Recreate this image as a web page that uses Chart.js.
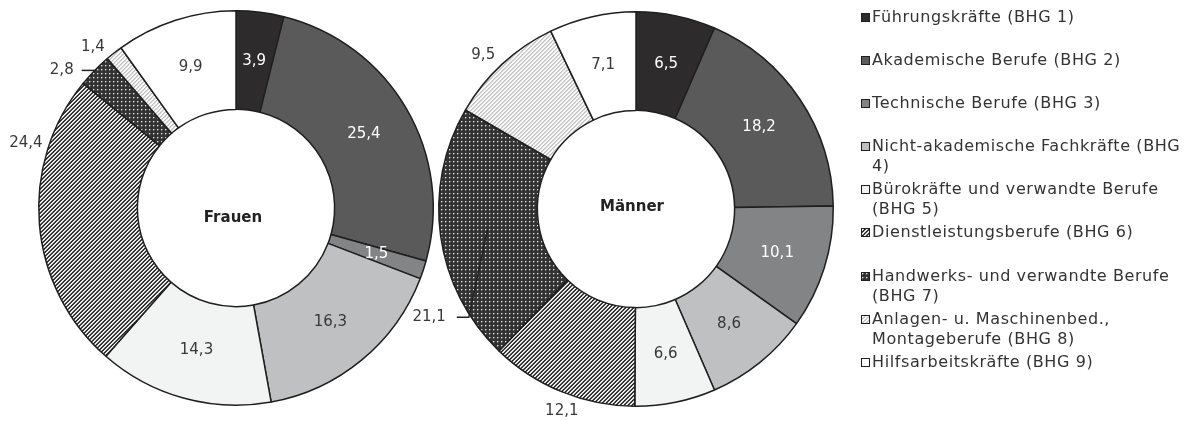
<!DOCTYPE html>
<html>
<head>
<meta charset="utf-8">
<script src="https://cdn.jsdelivr.net/npm/chart.js@4"></script>
<style>
  body { margin: 0; background: #fff; width: 1189px; height: 421px; overflow: hidden; position: relative; font-family: "DejaVu Sans", sans-serif; }
  .pie { position: absolute; top: 0; }
  #legend { position: absolute; left: 861px; top: 7px; width: 328px; color: #333; font-size: 16px; letter-spacing: 0.6px; }
  #legend .item { height: 43.1px; display: flex; align-items: flex-start; }
  #legend canvas { flex: none; margin: 6px 2px 0 0; }
  #legend span { line-height: 20px; white-space: pre; }
</style>
</head>
<body>
<canvas id="frauen" class="pie" style="left:0" width="472" height="421"></canvas>
<canvas id="maenner" class="pie" style="left:400px" width="472" height="421"></canvas>
<div id="legend"></div>
<script>
const categories = [
  "Führungskräfte (BHG 1)",
  "Akademische Berufe (BHG 2)",
  "Technische Berufe (BHG 3)",
  "Nicht-akademische Fachkräfte (BHG\n4)",
  "Bürokräfte und verwandte Berufe\n(BHG 5)",
  "Dienstleistungsberufe (BHG 6)",
  "Handwerks- und verwandte Berufe\n(BHG 7)",
  "Anlagen- u. Maschinenbed.,\nMontageberufe (BHG 8)",
  "Hilfsarbeitskräfte (BHG 9)",
];
const frauenValues = [3.9, 25.4, 1.5, 16.3, 14.3, 24.4, 2.8, 1.4, 9.9];
const maennerValues = [6.5, 18.2, 10.1, 8.6, 6.6, 12.1, 21.1, 9.5, 7.1];

// 4x4 pixel tiles for the hatched segments
function tile(fn) {
  const c = document.createElement("canvas");
  c.width = c.height = 4;
  const g = c.getContext("2d");
  for (let x = 0; x < 4; x++) {
    for (let y = 0; y < 4; y++) {
      g.fillStyle = fn(x, y);
      g.fillRect(x, y, 1, 1);
    }
  }
  return g.createPattern(c, "repeat");
}

const darkStripes = tile((x, y) => ["#262626", "#4a4a4a", "#ffffff", "#d0d0d0"][(x + y) % 4]);
const dots = tile((x, y) => (x === 1 && y === 1 ? "#e8e8e8" : (x === 2 && y === 1) || (x === 1 && y === 2) ? "#7a7a7a" : "#333333"));
const lightStripes = tile((x, y) => ["#c2c2c2", "#d6d6d6", "#ffffff", "#f6f6f6"][(x + y) % 4]);

const fills = ["#2e2b2c", "#5a5a5b", "#838486", "#bfc0c2", "#f2f3f3", darkStripes, dots, lightStripes, "#ffffff"];

const fmt = (v) => v.toLocaleString("de-DE", { minimumFractionDigits: 1, maximumFractionDigits: 1 });
const rad = (d) => (d * Math.PI) / 180;

const valueLabels = {
  id: "valueLabels",
  afterDatasetsDraw(chart, args, opts) {
    const ctx = chart.ctx;
    const values = chart.data.datasets[0].data;
    const arcs = chart.getDatasetMeta(0).data;
    ctx.save();
    ctx.textBaseline = "middle";
    arcs.forEach((arc, i) => {
      const { x, y, startAngle, endAngle, innerRadius, outerRadius } = arc.getProps(
        ["x", "y", "startAngle", "endAngle", "innerRadius", "outerRadius"], true);
      const mid = (startAngle + endAngle) / 2;
      const p = opts.place[i] || {};
      const text = fmt(values[i]);
      ctx.font = "15px 'DejaVu Sans'";
      ctx.fillStyle = p.r || p.leader ? "#383838" : i < 3 ? "#ffffff" : "#383838";
      if (p.leader) {
        const pts = p.leader.map(([f, s]) => [x + Math.cos(mid + rad(s)) * outerRadius * f, y + Math.sin(mid + rad(s)) * outerRadius * f]);
        const last = pts[pts.length - 1];
        const endX = last[0] - p.run;
        ctx.beginPath();
        ctx.moveTo(pts[0][0], pts[0][1]);
        pts.slice(1).forEach((q) => ctx.lineTo(q[0], q[1]));
        ctx.lineTo(endX, last[1]);
        ctx.strokeStyle = "#222";
        ctx.lineWidth = 1.5;
        ctx.stroke();
        ctx.textAlign = "right";
        ctx.fillText(text, endX - p.gap, last[1]);
        return;
      }
      const a = mid + rad(p.shift || 0);
      const r = p.r ? outerRadius * p.r : (innerRadius + outerRadius) / 2;
      ctx.textAlign = "center";
      ctx.fillText(text, x + Math.cos(a) * r, y + Math.sin(a) * r);
    });
    const c = arcs[0].getProps(["x", "y"], true);
    ctx.font = "bold 15px 'DejaVu Sans'";
    ctx.fillStyle = "#222";
    ctx.textAlign = "center";
    ctx.fillText(opts.title, c.x + opts.titleDx, c.y + opts.titleDy);
    ctx.restore();
  },
};

function doughnut(id, values, padding, labelOpts) {
  return new Chart(document.getElementById(id), {
    type: "doughnut",
    data: {
      labels: categories,
      datasets: [{
        data: values,
        backgroundColor: fills,
        borderColor: "#1f1f1f",
        borderWidth: 1.5,
      }],
    },
    options: {
      responsive: false,
      animation: false,
      devicePixelRatio: 1,
      cutout: "50%",
      layout: { padding },
      plugins: {
        legend: { display: false },
        tooltip: { enabled: false },
        valueLabels: labelOpts,
      },
    },
    plugins: [valueLabels],
  });
}

doughnut("frauen", frauenValues, { left: 38, right: 38, top: 10, bottom: 15 }, {
  title: "Frauen", titleDx: -3, titleDy: 10,
  place: {
    5: { r: 1.115, shift: 22 },
    6: { leader: [[1.0, 0]], run: 13, gap: 8 },
    7: { r: 1.09, shift: -3.5 },
  },
});

doughnut("maenner", maennerValues, { left: 38, right: 38, top: 11, bottom: 14 }, {
  title: "Männer", titleDx: -4, titleDy: -2,
  place: {
    5: { r: 1.09, shift: -2 },
    6: { leader: [[0.76, 0], [1.01, -25]], run: 12, gap: 11 },
    7: { r: 1.1, shift: -2 },
  },
});

// legend with wrapped labels, like the original
const legend = document.getElementById("legend");
categories.forEach((name, i) => {
  const item = document.createElement("div");
  item.className = "item";
  const sw = document.createElement("canvas");
  sw.width = sw.height = 9;
  const g = sw.getContext("2d");
  g.fillStyle = fills[i];
  g.fillRect(0, 0, 9, 9);
  g.strokeStyle = "#1f1f1f";
  g.lineWidth = 1;
  g.strokeRect(0.5, 0.5, 8, 8);
  const label = document.createElement("span");
  label.textContent = name;
  item.append(sw, label);
  legend.append(item);
});
</script>
</body>
</html>
